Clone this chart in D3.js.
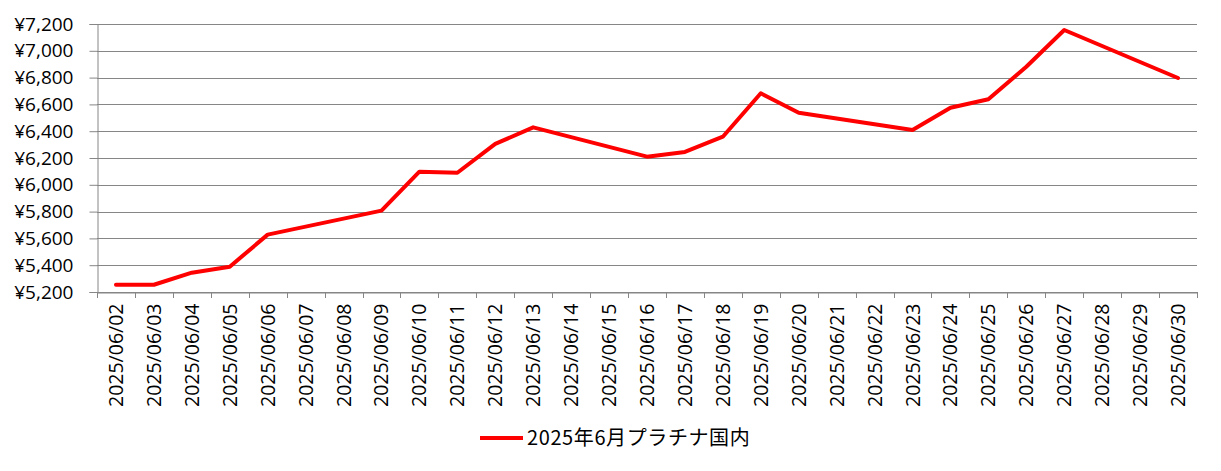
<!DOCTYPE html>
<html>
<head>
<meta charset="utf-8">
<script src="https://cdn.jsdelivr.net/npm/d3@7"></script>
<style>
  html, body { margin: 0; padding: 0; background: #fff; }
  svg { display: block; font-family: "Open Sans", "Noto Sans CJK JP", sans-serif; }
</style>
</head>
<body>
<svg id="chart" width="1221" height="471"></svg>
<script>
// Dates on the category axis (weekends have no price, the line just joins across)
const dates = [
    "2025/06/02", "2025/06/03", "2025/06/04", "2025/06/05", "2025/06/06", "2025/06/07",
    "2025/06/08", "2025/06/09", "2025/06/10", "2025/06/11", "2025/06/12", "2025/06/13",
    "2025/06/14", "2025/06/15", "2025/06/16", "2025/06/17", "2025/06/18", "2025/06/19",
    "2025/06/20", "2025/06/21", "2025/06/22", "2025/06/23", "2025/06/24", "2025/06/25",
    "2025/06/26", "2025/06/27", "2025/06/28", "2025/06/29", "2025/06/30"
];
const prices = [
    5254, 5254, 5344, 5389, 5628, null,
    null, 5807, 6098, 6090, 6305, 6429,
    null, null, 6210, 6245, 6359, 6683,
    6538, null, null, 6409, 6575, 6638,
    6881, 7155, null, null, 6797
];
const yTicks = [5200, 5400, 5600, 5800, 6000, 6200, 6400, 6600, 6800, 7000, 7200];
const seriesName = "2025年6月プラチナ国内";

const svg = d3.select("#chart");
const plotLeft = 97, plotRight = 1197, plotTop = 24, plotBottom = 292;
const grey = "#868686";

const x = d3.scaleBand().domain(dates).range([plotLeft, plotRight]);
const y = d3.scaleLinear().domain([5200, 7200]).range([plotBottom, plotTop]);

// Horizontal gridlines
svg.append("g")
    .selectAll("line")
    .data(yTicks)
    .join("line")
    .attr("x1", plotLeft).attr("x2", plotRight)
    .attr("y1", d => Math.round(y(d)) + 0.5).attr("y2", d => Math.round(y(d)) + 0.5)
    .attr("stroke", grey);

// Y axis
const yAxis = svg.append("g")
    .attr("transform", `translate(${plotLeft + 0.5},0)`)
    .call(d3.axisLeft(y).tickValues(yTicks).tickFormat(d => "¥" + d3.format(",")(d)).tickSize(8).tickPadding(16));
yAxis.select(".domain").attr("stroke", grey);
yAxis.selectAll(".tick line").attr("stroke", grey);
yAxis.selectAll("text").attr("font-size", 19).attr("fill", "#000").attr("font-family", "Open Sans");

// X axis, labels turned upright
const xAxis = svg.append("g")
    .attr("transform", `translate(0,${plotBottom + 0.5})`)
    .call(d3.axisBottom(x).tickSize(0).tickPadding(0));
xAxis.select(".domain").attr("stroke", grey);
xAxis.selectAll("text")
    .attr("font-size", 19.5)
    .attr("fill", "#000")
    .attr("font-family", "Open Sans")
    .attr("text-anchor", "end")
    .attr("dy", null)
    .attr("y", 0)
    .attr("transform", "translate(7,11) rotate(-90)");

// Tick marks between categories
const bounds = dates.map(d => x(d)).concat([x.range()[1]]);
svg.append("g")
    .selectAll("line")
    .data(bounds)
    .join("line")
    .attr("x1", d => Math.round(d) + 0.5).attr("x2", d => Math.round(d) + 0.5)
    .attr("y1", plotBottom).attr("y2", plotBottom + 6)
    .attr("stroke", grey);

// Price line
const points = dates.map((d, i) => ({ date: d, value: prices[i] })).filter(p => p.value !== null);
const line = d3.line()
    .x(p => x(p.date) + x.bandwidth() / 2)
    .y(p => y(p.value));
svg.append("path")
    .datum(points)
    .attr("d", line)
    .attr("fill", "none")
    .attr("stroke", "#ff0000")
    .attr("stroke-width", 4)
    .attr("stroke-linejoin", "round")
    .attr("stroke-linecap", "round");

// Legend
const legend = svg.append("g").attr("transform", "translate(480,438)");
legend.append("line")
    .attr("x1", 0).attr("x2", 43)
    .attr("stroke", "#ff0000").attr("stroke-width", 4);
legend.append("text")
    .attr("x", 47).attr("y", 7)
    .attr("font-size", 20)
    .attr("font-family", "Noto Sans CJK JP")
    .attr("letter-spacing", 0.6)
    .attr("fill", "#000")
    .text(seriesName);
</script>
</body>
</html>
